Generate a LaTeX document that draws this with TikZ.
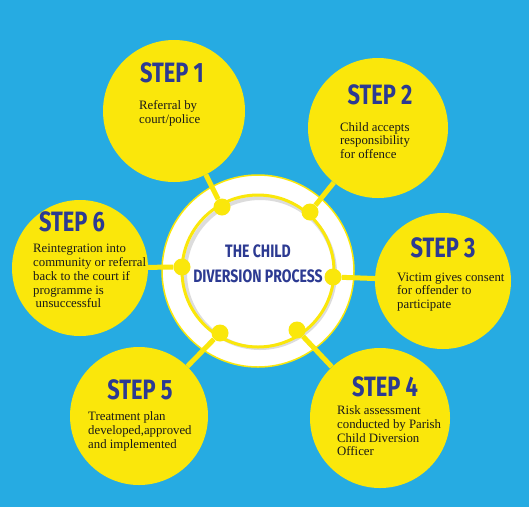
\documentclass[tikz,border=0pt]{standalone}
\usepackage{fontspec}
\setmainfont{Liberation Serif}
\newfontfamily\stepfont[FakeStretch=0.78]{Fira Sans}
\newlength{\du}
\setlength{\du}{1\unitlength}
\definecolor{skyblue}{rgb}{0.149, 0.671, 0.886}
\definecolor{stepyellow}{rgb}{0.980, 0.906, 0.043}
\definecolor{stepblue}{rgb}{0.173, 0.227, 0.573}
\tikzset{
  stepcircle/.style={circle, fill=stepyellow, inner sep=0pt, minimum size=140\du},
  stepdot/.style={circle, fill=stepyellow, inner sep=0pt, minimum size=17\du},
  steptitle/.style={font=\stepfont\bfseries\fontsize{28}{28}\selectfont, text=stepblue, inner sep=0pt},
  steptext/.style={font=\fontsize{12.8}{13.8}\selectfont, text=black!90, align=left, anchor=north west, inner sep=0pt},
  link/.style={draw=stepyellow, line width=5\du},
}

\begin{document}
\begin{tikzpicture}
\pgftransformxscale{1.000000}
\pgftransformyscale{-1.000000}
% background
\fill[skyblue] (0\du,0\du) rectangle (529\du,507\du);
\useasboundingbox (0\du,0\du) rectangle (529\du,507\du);
% centre circle
\definecolor{dialinecolor}{rgb}{1.000000, 1.000000, 1.000000}
\pgfsetfillcolor{dialinecolor}
\filldraw[draw=stepyellow, line width=1.5\du] (258\du,271\du) circle (96\du);
\draw[black!45, opacity=0.3, line width=4\du] (260\du,273\du) circle (75\du);
\draw[stepyellow, line width=3\du] (258\du,271\du) circle (76\du);
\node[font=\stepfont\bfseries\fontsize{18}{25}\selectfont, text=stepblue, align=center] (centre) at (258\du,264\du) {THE CHILD\\DIVERSION PROCESS};
% dots on the ring
\node[stepdot] (d1) at (222\du,207\du) {};
\node[stepdot] (d2) at (310\du,212\du) {};
\node[stepdot] (d3) at (333\du,277\du) {};
\node[stepdot] (d4) at (297\du,330\du) {};
\node[stepdot] (d5) at (220\du,333\du) {};
\node[stepdot] (d6) at (182\du,267\du) {};
% step circles
\node[stepcircle, minimum size=142\du] (s1) at (174\du,111\du) {};
\node[stepcircle] (s2) at (378\du,128\du) {};
\node[stepcircle, minimum size=136\du] (s3) at (443\du,281\du) {};
\node[stepcircle] (s4) at (380\du,418\du) {};
\node[stepcircle, minimum size=138\du] (s5) at (139\du,416\du) {};
\node[stepcircle, minimum size=136\du] (s6) at (80\du,268\du) {};
% links
\draw[link] (s1) -- (d1);
\draw[link] (s2) -- (d2);
\draw[link] (s3) -- (d3);
\draw[link] (s4) -- (d4);
\draw[link] (s5) -- (d5);
\draw[link] (s6) -- (d6);
% titles
\node[steptitle] (t1) at (172\du,73\du) {STEP 1};
\node[steptitle] (t2) at (380\du,95\du) {STEP 2};
\node[steptitle] (t3) at (443\du,248\du) {STEP 3};
\node[steptitle] (t4) at (385\du,387\du) {STEP 4};
\node[steptitle] (t5) at (140\du,390\du) {STEP 5};
\node[steptitle] (t6) at (72\du,222\du) {STEP 6};
% texts
\node[steptext] (x1) at (139\du,100.5\du) {Referral by\\court/police};
\node[steptext] (x2) at (340\du,122\du) {Child accepts\\responsibility\\for offence};
\node[steptext] (x3) at (397\du,272.5\du) {Victim gives consent\\for offender to\\participate};
\node[steptext] (x4) at (337\du,405.5\du) {Risk assessment\\conducted by Parish\\Child Diversion\\Officer};
\node[steptext] (x5) at (88\du,411.5\du) {Treatment plan\\developed,approved\\and implemented};
\node[steptext] (x6) at (33\du,244\du) {Reintegration into\\community or referral\\back to the court if\\programme is\\\hspace*{2.5\du}unsuccessful};
\end{tikzpicture}
\end{document}
